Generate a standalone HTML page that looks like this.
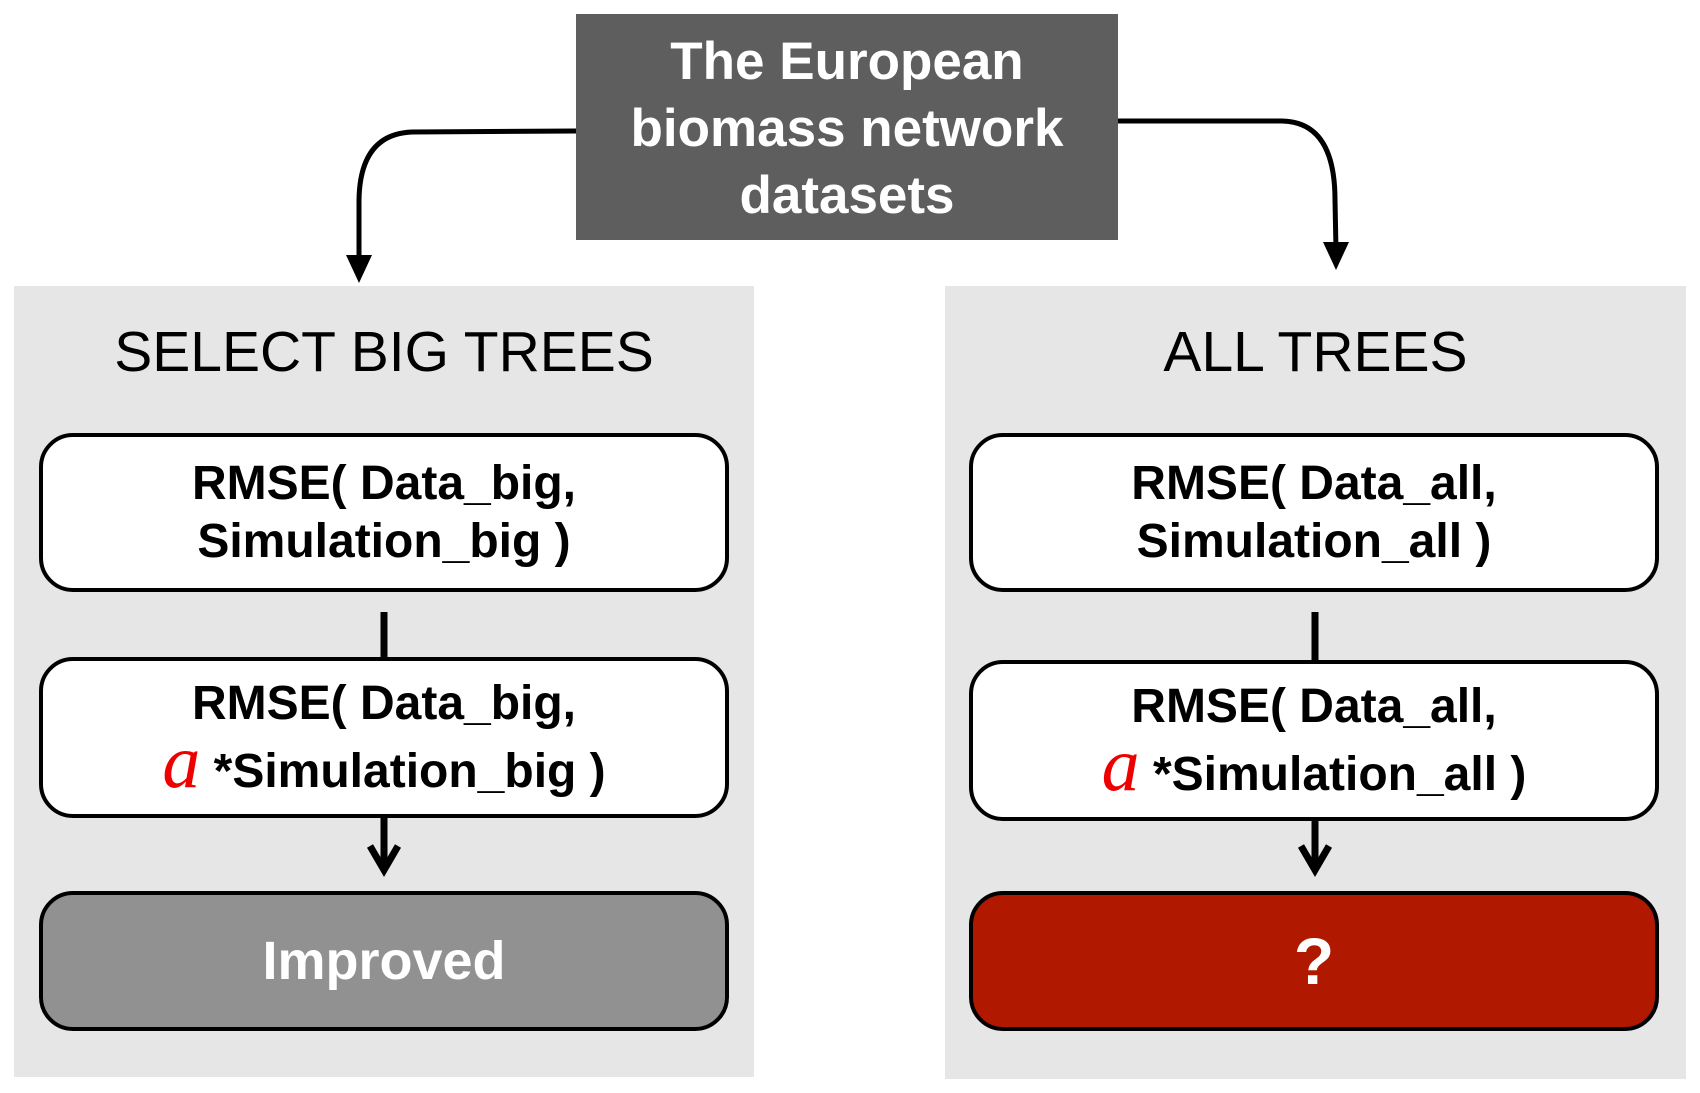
<!DOCTYPE html>
<html><head><style>
body{margin:0;width:1700px;height:1093px;background:#fff;position:relative;overflow:hidden;font-family:"Liberation Sans",Arial,sans-serif}
.a{position:absolute;box-sizing:border-box}
.panel{background:#e6e6e6}
.box{border:4.5px solid #000;border-radius:34px;background:#fff;display:flex;flex-direction:column;align-items:center;justify-content:center;font-weight:bold;font-size:48px;line-height:58px;color:#000;text-align:center}
.title{font-size:57px;text-align:center;color:#000;line-height:60px}
.al{color:#e00;font-family:"Liberation Serif",serif;font-style:italic;font-weight:normal;font-size:76px}
</style></head><body>
<div class="a panel" style="left:14px;top:286px;width:740px;height:791px"></div>
<div class="a panel" style="left:945px;top:286px;width:741px;height:793px"></div>
<div class="a" style="left:576px;top:14px;width:542px;height:226px;background:#5e5e5e;color:#fff;font-weight:bold;font-size:53px;line-height:67px;text-align:center;padding-top:14px">The European<br>biomass network<br>datasets</div>
<div class="a title" style="left:14px;top:322px;width:740px">SELECT BIG TREES</div>
<div class="a title" style="left:945px;top:322px;width:741px">ALL TREES</div>
<div class="a box" style="left:39px;top:433px;width:690px;height:159px">RMSE( Data_big,<br>Simulation_big )</div>
<div class="a box" style="left:39px;top:657px;width:690px;height:161px"><div>RMSE( Data_big,</div><div><span class="al">a</span> *Simulation_big )</div></div>
<div class="a box" style="left:39px;top:891px;width:690px;height:140px;background:#919191;color:#fff;font-size:54px">Improved</div>
<div class="a box" style="left:969px;top:433px;width:690px;height:159px">RMSE( Data_all,<br>Simulation_all )</div>
<div class="a box" style="left:969px;top:660px;width:690px;height:161px"><div>RMSE( Data_all,</div><div><span class="al">a</span> *Simulation_all )</div></div>
<div class="a box" style="left:969px;top:891px;width:690px;height:140px;background:#b01800;color:#fff;font-size:66px">?</div>
<svg class="a" style="left:0;top:0" width="1700" height="1093">
<g fill="none" stroke="#000" stroke-width="5">
<path d="M576 131 L412 132 Q360 134 359 200 L359 262"/>
<path d="M1118 121 L1282 121 Q1335 122 1335 200 L1336 250"/>
</g>
<g fill="none" stroke="#000" stroke-width="7">
<line x1="384" y1="612" x2="384" y2="657"/>
<line x1="1315" y1="612" x2="1315" y2="660"/>
<line x1="384" y1="818" x2="384" y2="868"/>
<line x1="1315" y1="821" x2="1315" y2="868"/>
<path d="M370 846 L384 870 L398 846"/>
<path d="M1301 846 L1315 870 L1329 846"/>
</g>
<polygon points="346,255 372,255 359,283" fill="#000"/>
<polygon points="1323,242 1349,242 1336,270" fill="#000"/>
</svg>
</body></html>
